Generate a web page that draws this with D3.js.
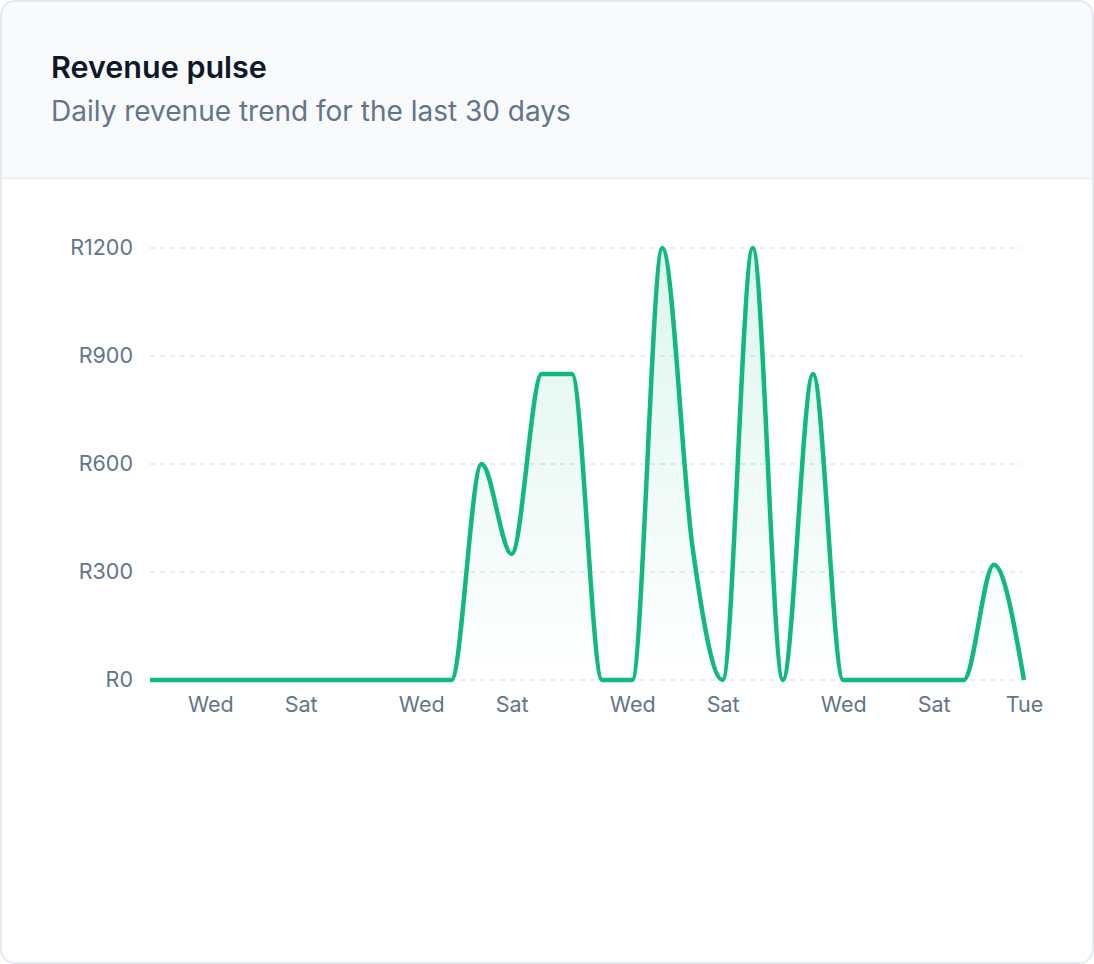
<!DOCTYPE html>
<html lang="en">
<head>
    <meta charset="UTF-8">
    <title>Revenue pulse</title>
    <script src="https://d3js.org/d3.v7.min.js"></script>
    <style>
        body { margin: 0; background: #fff; font-family: Inter, "Noto Sans", sans-serif; }
    </style>
</head>
<body>
    <div id="chart"></div>

    <script>
        // Data: last 30 days, starting on a Monday
        const days = [
            "Mon", "Tue", "Wed", "Thu", "Fri", "Sat", "Sun",
            "Mon", "Tue", "Wed", "Thu", "Fri", "Sat", "Sun",
            "Mon", "Tue", "Wed", "Thu", "Fri", "Sat", "Sun",
            "Mon", "Tue", "Wed", "Thu", "Fri", "Sat", "Sun",
            "Mon", "Tue"
        ];
        const revenue = [
            0, 0, 0, 0, 0, 0, 0, 0, 0, 0,
            0, 600, 350, 850, 850, 0, 0, 1200, 370, 0,
            1200, 0, 850, 0, 0, 0, 0, 0, 320, 0
        ];
        const xTickIdx = [2, 5, 9, 12, 16, 19, 23, 26, 29];
        const yTicks = [0, 300, 600, 900, 1200];

        const W = 1094, H = 964;
        const green = "#10b981";

        const svg = d3.select("#chart")
            .append("svg")
            .attr("width", W)
            .attr("height", H);

        const defs = svg.append("defs");
        defs.append("clipPath").attr("id", "card-clip")
            .append("rect")
            .attr("x", 1).attr("y", 1)
            .attr("width", W - 2).attr("height", H - 2)
            .attr("rx", 14);

        const grad = defs.append("linearGradient")
            .attr("id", "area-grad")
            .attr("x1", 0).attr("y1", 0).attr("x2", 0).attr("y2", 1);
        grad.append("stop").attr("offset", "0%").attr("stop-color", green).attr("stop-opacity", 0.14);
        grad.append("stop").attr("offset", "100%").attr("stop-color", green).attr("stop-opacity", 0);

        // Card + header
        const card = svg.append("g").attr("clip-path", "url(#card-clip)");
        card.append("rect")
            .attr("x", 0).attr("y", 0)
            .attr("width", W).attr("height", H)
            .attr("fill", "#fff");
        card.append("rect")
            .attr("x", 0).attr("y", 0)
            .attr("width", W).attr("height", 178)
            .attr("fill", "#f8fafc");
        card.append("line")
            .attr("x1", 0).attr("x2", W)
            .attr("y1", 178.5).attr("y2", 178.5)
            .attr("stroke", "#eef2f6")
            .attr("stroke-width", 2);

        svg.append("rect")
            .attr("x", 1).attr("y", 1)
            .attr("width", W - 2).attr("height", H - 2)
            .attr("rx", 14)
            .attr("fill", "none")
            .attr("stroke", "#e5e9ef")
            .attr("stroke-width", 2);

        svg.append("text")
            .attr("x", 51).attr("y", 78)
            .attr("fill", "#0f172a")
            .style("font-size", "30.5px")
            .style("font-weight", 600)
            .text("Revenue pulse");

        svg.append("text")
            .attr("x", 51).attr("y", 120.5)
            .attr("fill", "#64748b")
            .style("font-size", "28px")
            .text("Daily revenue trend for the last 30 days");

        // Plot
        const x = d3.scaleLinear()
            .domain([0, days.length - 1])
            .range([150, 1024]);

        const y = d3.scaleLinear()
            .domain([0, 1200])
            .range([680, 248]);

        // Grid
        svg.append("g")
            .selectAll("line")
            .data(yTicks)
            .join("line")
            .attr("x1", 150).attr("x2", 1022)
            .attr("y1", d => y(d)).attr("y2", d => y(d))
            .attr("stroke", "#e2e8f0")
            .attr("stroke-width", 1.5)
            .attr("stroke-dasharray", "5 5");

        // Axes
        const yAxis = svg.append("g")
            .attr("transform", "translate(150,0)")
            .call(d3.axisLeft(y).tickValues(yTicks).tickSize(0).tickPadding(17).tickFormat(d => "R" + d));
        const xAxis = svg.append("g")
            .attr("transform", "translate(0,680)")
            .call(d3.axisBottom(x).tickValues(xTickIdx).tickSize(0).tickPadding(17).tickFormat(i => days[i]));

        [yAxis, xAxis].forEach(a => {
            a.select(".domain").remove();
            a.selectAll("text")
                .attr("fill", "#64748b")
                .style("font-family", "Inter, 'Noto Sans', sans-serif")
                .style("font-size", "21.5px");
        });

        // Area + line
        const area = d3.area()
            .x((d, i) => x(i))
            .y0(y(0))
            .y1(d => y(d))
            .curve(d3.curveMonotoneX);

        const line = d3.line()
            .x((d, i) => x(i))
            .y(d => y(d))
            .curve(d3.curveMonotoneX);

        svg.append("path")
            .datum(revenue)
            .attr("d", area)
            .attr("fill", "url(#area-grad)");

        svg.append("path")
            .datum(revenue)
            .attr("d", line)
            .attr("fill", "none")
            .attr("stroke", green)
            .attr("stroke-width", 4.5)
            .attr("stroke-linejoin", "round");
    </script>
</body>
</html>
